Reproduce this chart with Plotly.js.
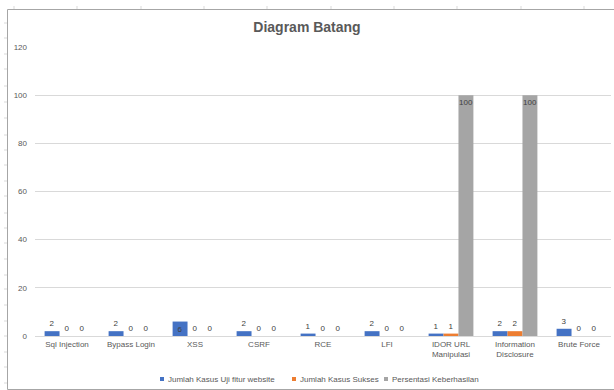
<!DOCTYPE html>
<html><head><meta charset="utf-8">
<script src="https://cdn.plot.ly/plotly-3.0.1.min.js"></script>
<style>body{margin:0;padding:0;background:#fff}</style>
</head><body>
<div id="chart" style="width:614px;height:390px"></div>
<script>
const categories = ["Sql Injection","Bypass Login","XSS","CSRF","RCE","LFI","IDOR URL<br>Manipulasi","Information<br>Disclosure","Brute Force"];
const seriesNames = ["Jumlah Kasus Uji fitur website","Jumlah Kasus Sukses","Persentasi Keberhasilan"];
const ujiValues = [2,2,6,2,1,2,1,2,3];
const suksesValues = [0,0,0,0,0,0,1,2,0];
const persenValues = [0,0,0,0,0,0,100,100,0];
const yTicks = [0,20,40,60,80,100,120];

const colors = ["#4472C4","#ED7D31","#A5A5A5"];
const font = "Liberation Sans, Arial, sans-serif";
function mk(name, vals, color){
  return {
    type:"bar", name:name, x:categories, y:vals, showlegend:false,
    marker:{color:color},
    text:vals.map(String),
    textposition:vals.map(v=> v>=5 ? "inside" : "outside"),
    insidetextanchor:"end",
    textangle:0,
    constraintext:"none",
    cliponaxis:false,
    textfont:{size:8,color:"#404040",family:font},
    insidetextfont:{size:8,color:"#404040",family:font},
    outsidetextfont:{size:8,color:"#404040",family:font},
    hoverinfo:"none"
  };
}
const data = [mk(seriesNames[0],ujiValues,colors[0]),mk(seriesNames[1],suksesValues,colors[1]),mk(seriesNames[2],persenValues,colors[2])];

const L=35,R=611,T=47,B=336;
const px=x=>(x-L)/(R-L), py=y=>(B-y)/(B-T);
const shapes=[
  {type:"rect",xref:"paper",yref:"paper",x0:px(7.5),x1:px(616),y0:py(389.5),y1:py(9.5),line:{color:"#A6A6A6",width:1},fillcolor:"rgba(0,0,0,0)",layer:"below"}
];
[14,77,141,204,267,331,394,457,521,584].forEach(x=>shapes.push({type:"line",xref:"paper",yref:"paper",x0:px(x),x1:px(x),y0:py(6),y1:py(9),line:{color:"#D9D9D9",width:1}}));
[23,38,54,69,86,102,118,135,150,165,181,196,213,228,243,259,275,289,305,321,336,352,367,383].forEach(y=>shapes.push({type:"line",xref:"paper",yref:"paper",x0:px(4),x1:px(7),y0:py(y),y1:py(y),line:{color:"#D9D9D9",width:1}}));

// custom legend (positions in pixels)
const legendPos=[160,292,384];
const annotations=[];
seriesNames.forEach((n,i)=>{
  const x0=legendPos[i];
  shapes.push({type:"rect",xref:"paper",yref:"paper",x0:px(x0),x1:px(x0+4),y0:py(381),y1:py(377),line:{width:0},fillcolor:colors[i]});
  annotations.push({xref:"paper",yref:"paper",x:px(x0+6),y:py(379),xanchor:"left",yanchor:"middle",text:n,showarrow:false,font:{family:font,size:8,color:"#595959"}});
});

const layout = {
  width:614,height:390,
  margin:{l:L,r:614-R,t:T,b:390-B,pad:0},
  paper_bgcolor:"#fff",plot_bgcolor:"#fff",
  font:{family:font,size:8,color:"#595959"},
  title:{text:"Diagram Batang",font:{family:font,size:14,color:"#595959",weight:"bold"},x:0.5,xanchor:"center",y:1-27/390,yanchor:"middle"},
  barmode:"group",bargap:0.3,bargroupgap:0,
  xaxis:{type:"category",showline:true,linecolor:"#D9D9D9",linewidth:1,ticks:"",tickfont:{size:8,color:"#595959"},showgrid:false,automargin:false},
  yaxis:{range:[0,120],tickvals:yTicks,showgrid:true,gridcolor:"#D9D9D9",gridwidth:1,zeroline:false,showline:false,ticks:"",ticklabelstandoff:7,tickfont:{size:8,color:"#595959"},automargin:false},
  showlegend:false,
  shapes:shapes,
  annotations:annotations
};
Plotly.newPlot("chart",data,layout,{staticPlot:true,displayModeBar:false});
</script>
</body></html>
